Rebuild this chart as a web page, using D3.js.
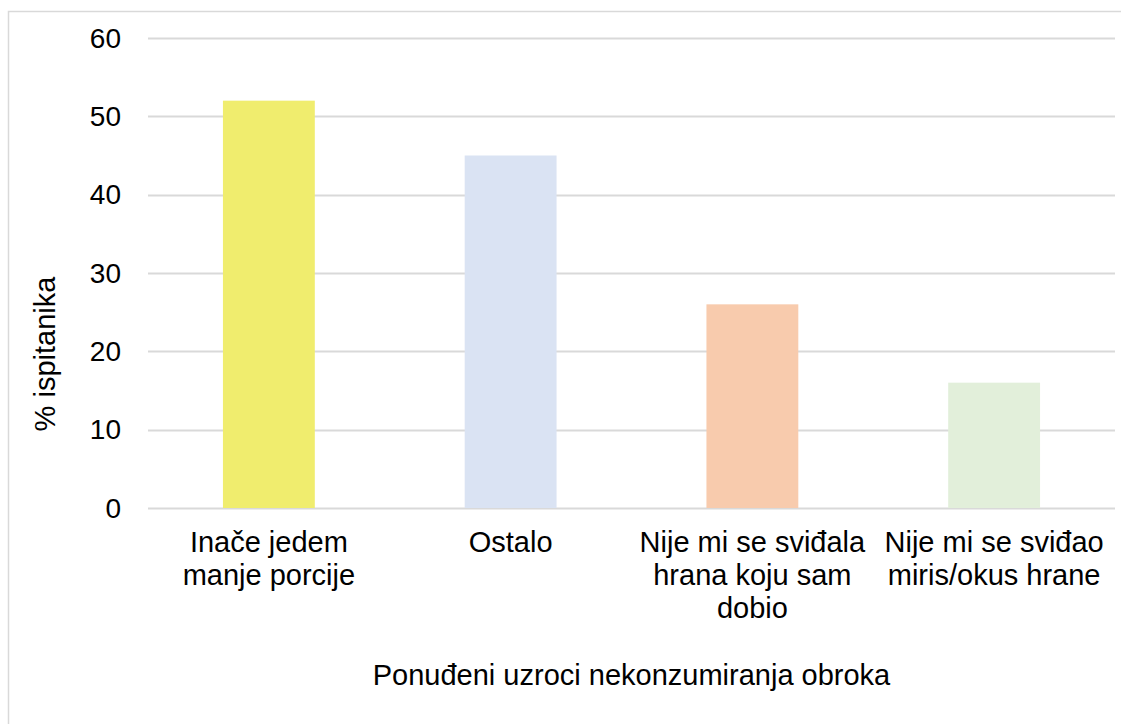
<!DOCTYPE html>
<html>
<head>
<meta charset="utf-8">
<script src="https://cdn.jsdelivr.net/npm/d3@7"></script>
<style>
  body { margin: 0; background: #fff; }
  svg { display: block; font-family: "Liberation Sans", Arial, sans-serif; }
</style>
</head>
<body>
<svg id="chart"></svg>
<script>
var categories = [
  ["Inače jedem", "manje porcije"],
  ["Ostalo"],
  ["Nije mi se sviđala", "hrana koju sam", "dobio"],
  ["Nije mi se sviđao", "miris/okus hrane"]
];
var values = [52, 45, 26, 16];
var barColors = ["#f0ed6e", "#dae3f3", "#f8cbad", "#e2efda"];
var yTicks = [0, 10, 20, 30, 40, 50, 60];
var yTitle = "% ispitanika";
var xTitle = "Ponuđeni uzroci nekonzumiranja obroka";

var w = 1121, h = 724;
var plotLeft = 148, plotRight = 1115, plotTop = 38, plotBottom = 508;
var LABEL_FONT = 29;
var TICK_FONT = 28;

var svg = d3.select("#chart").attr("width", w).attr("height", h);

// outer frame (only top and left edges show in the picture)
svg.append("rect")
  .attr("x", 8.5).attr("y", 11.5)
  .attr("width", w + 10).attr("height", h + 10)
  .attr("fill", "none").attr("stroke", "#d9d9d9").attr("stroke-width", 1.5);

var idx = d3.range(values.length);
var xScale = d3.scaleBand().domain(idx).range([plotLeft, plotRight])
  .paddingInner(0.62).paddingOuter(0.31);
var yScale = d3.scaleLinear().domain([0, 60]).range([plotBottom, plotTop]);

// gridlines
svg.append("g").selectAll("line")
  .data(yTicks)
  .enter()
    .append("line")
    .attr("x1", plotLeft).attr("x2", plotRight)
    .attr("y1", function(d) { return Math.round(yScale(d)) + 0.5; })
    .attr("y2", function(d) { return Math.round(yScale(d)) + 0.5; })
    .attr("stroke", "#d9d9d9").attr("stroke-width", 2);

// y tick labels
svg.append("g").selectAll("text")
  .data(yTicks)
  .enter()
    .append("text")
    .attr("x", 121)
    .attr("y", function(d) { return yScale(d); })
    .attr("dy", "0.35em")
    .attr("text-anchor", "end")
    .attr("font-size", TICK_FONT)
    .attr("fill", "#000")
    .text(function(d) { return d; });

// bars
svg.append("g").selectAll("rect")
  .data(values)
  .enter()
    .append("rect")
    .attr("x", function(d, i) { return xScale(i); })
    .attr("width", xScale.bandwidth())
    .attr("y", function(d) { return yScale(d); })
    .attr("height", function(d) { return plotBottom - yScale(d); })
    .attr("fill", function(d, i) { return barColors[i]; });

// category labels
var labels = svg.append("g").selectAll("text")
  .data(categories)
  .enter()
    .append("text")
    .attr("text-anchor", "middle")
    .attr("font-size", LABEL_FONT)
    .attr("fill", "#000");
labels.each(function(lines, i) {
  var t = d3.select(this);
  lines.forEach(function(line, k) {
    t.append("tspan")
      .attr("x", xScale(i) + xScale.bandwidth() / 2)
      .attr("y", 552 + k * 33)
      .text(line);
  });
});

// axis titles
svg.append("text")
  .attr("x", (plotLeft + plotRight) / 2).attr("y", 685)
  .attr("text-anchor", "middle")
  .attr("font-size", LABEL_FONT)
  .text(xTitle);

svg.append("text")
  .attr("transform", "translate(55," + 354 + ") rotate(-90)")
  .attr("text-anchor", "middle")
  .attr("font-size", LABEL_FONT)
  .text(yTitle);
</script>
</body>
</html>
